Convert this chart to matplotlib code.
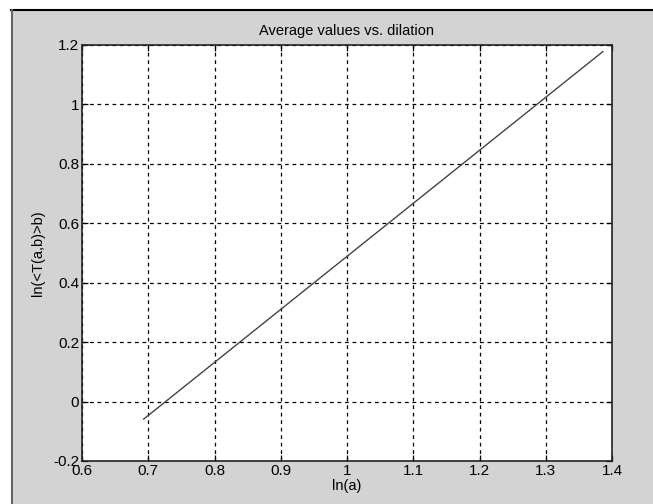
import matplotlib
matplotlib.use("Agg")
import matplotlib.pyplot as plt
from matplotlib.patches import Rectangle
from matplotlib.lines import Line2D
from matplotlib import font_manager

# Data
x_vals = [0.6931, 1.3863]
y_vals = [-0.059, 1.178]
x_ticks = [0.6, 0.7, 0.8, 0.9, 1.0, 1.1, 1.2, 1.3, 1.4]
x_ticklabels = ["0.6", "0.7", "0.8", "0.9", "1", "1.1", "1.2", "1.3", "1.4"]
y_ticks = [-0.2, 0, 0.2, 0.4, 0.6, 0.8, 1.0, 1.2]
y_ticklabels = ["-0.2", "0", "0.2", "0.4", "0.6", "0.8", "1", "1.2"]
title = "Average values vs. dilation"
xlabel = "ln(a)"
ylabel = "ln(<T(a,b)>b)"

names = {f.name for f in font_manager.fontManager.ttflist}
fam = "Liberation Sans Narrow" if "Liberation Sans Narrow" in names else "Liberation Sans"
plt.rcParams['font.family'] = [fam, 'DejaVu Sans']

W, H = 653, 504
fig = plt.figure(figsize=(W/100, H/100), dpi=100)
fig.patch.set_facecolor("white")
bg = Rectangle((11/W, 0), 1 - 11/W, 1 - 9/H, transform=fig.transFigure,
               facecolor="#d3d3d3", edgecolor="none", zorder=-10)
fig.patches.append(bg)
fig.lines.append(Line2D([11/W, 1], [1 - 9.5/H, 1 - 9.5/H], transform=fig.transFigure,
                        color="black", linewidth=1.5))
fig.lines.append(Line2D([12/W, 12/W], [0, 1 - 9.5/H], transform=fig.transFigure,
                        color="#666666", linewidth=1.5))

ax = fig.add_axes([82/W, 1 - 461/H, (612-82)/W, (461-45)/H])
ax.set_facecolor("white")
ax.plot(x_vals, y_vals, color="#444444", linewidth=1.0)
ax.set_xlim(0.6, 1.4)
ax.set_ylim(-0.2, 1.2)
ax.set_xticks(x_ticks)
ax.set_xticklabels(x_ticklabels)
ax.set_yticks(y_ticks)
ax.set_yticklabels(y_ticklabels)
ax.grid(True, color="black", linestyle=(0, (3, 3)), linewidth=0.9)
ax.tick_params(direction="in", length=4, width=0.9, top=True, right=True,
               labelsize=11, pad=2, colors="black")
for s in ax.spines.values():
    s.set_linewidth(1.2)
    s.set_color("#222222")
ax.set_title(title, fontsize=10.5, pad=7)
ax.set_xlabel(xlabel, fontsize=10.5, labelpad=1)
ax.set_ylabel(ylabel, fontsize=10.5, labelpad=6)

fig.savefig("out.png", dpi=100, facecolor=fig.get_facecolor())
